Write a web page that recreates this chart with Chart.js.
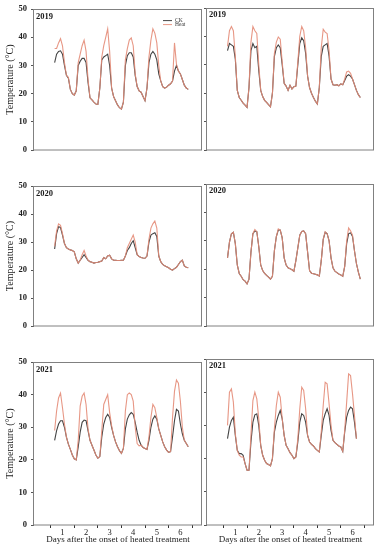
<!DOCTYPE html>
<html>
<head>
<meta charset="utf-8">
<script src="https://cdn.jsdelivr.net/npm/chart.js@4.4.0/dist/chart.umd.min.js"></script>
<style>
    html, body { margin: 0; padding: 0; background: #fff; }
    body { width: 379px; height: 550px; position: relative; overflow: hidden; }
    canvas { position: absolute; }
</style>
</head>
<body>
<canvas id="c2019a" width="203" height="177" style="left:0;top:0"></canvas>
<canvas id="c2019b" width="176" height="177" style="left:203px;top:0"></canvas>
<canvas id="c2020a" width="203" height="176" style="left:0;top:177px"></canvas>
<canvas id="c2020b" width="176" height="176" style="left:203px;top:177px"></canvas>
<canvas id="c2021a" width="203" height="197" style="left:0;top:353px"></canvas>
<canvas id="c2021b" width="176" height="197" style="left:203px;top:353px"></canvas>
<script>
// hours after the first day boundary, one reading every 2 h
var hours = [4, 6, 8, 10, 12, 14, 16, 18, 20, 22, 24, 26, 28, 30, 32, 34, 36, 38, 40, 42, 44, 46,
    48, 50, 52, 54, 56, 58, 60, 62, 64, 66, 68, 70, 72, 74, 76, 78, 80, 82, 84, 86, 88, 90, 92, 94,
    96, 98, 100, 102, 104, 106, 108, 110, 112, 114, 116, 118, 120, 122, 124, 126, 128, 130, 132, 134, 136, 138, 140];

// x tick marks (day boundaries) and label positions (day middles)
var dayTickHours = [0, 12, 24, 36, 48, 60, 72, 84, 96, 108, 120, 132, 144];
var dayLabels = ['1', '2', '3', '4', '5', '6'];
var yearLabels = ['2019', '2020', '2021'];
var seriesNames = ['CK', 'Heat'];

var ck2019a = [31, 34, 35, 35.2, 34, 30, 26.5, 25.5, 21.5, 20,
    19.5, 21, 30, 31.5, 32.5, 32.5, 31, 24, 18.5, 17.8, 17, 16.3,
    16.2, 22, 32, 33, 33.5, 34, 30, 22, 19, 17.5, 16, 15,
    14.5, 17, 30, 33.5, 34.5, 34.5, 33, 26.5, 22.5, 21, 20.5, 19,
    17.5, 22, 31, 34, 35, 34, 32, 27, 24.5, 22.5, 22, 22.3,
    23, 23.5, 24.5, 28, 30, 28, 27, 25, 23, 22, 21.5];
var heat2019a = [36, 36, 38, 39.5, 37, 31, 26.5, 25.8, 21.5, 20,
    19.5, 21, 31, 34, 37, 39, 35, 25, 18.5, 17.8, 17, 16.3,
    16.2, 22, 33, 37, 40, 43, 35, 22, 19, 17.5, 16, 15,
    14.5, 17, 32, 36, 39, 39.8, 37, 27, 22.5, 21, 20.5, 19,
    17.5, 22, 33, 39, 43, 41.5, 38, 30, 24.5, 22.5, 22, 22.3,
    23, 23.5, 24.5, 38, 30.5, 28, 27, 25, 23, 22, 21.5];

var ck2019b = [35, 37.5, 37, 36.5, 32, 21, 18.5, 17.5, 16.5, 15.8,
    15, 22, 35, 37.5, 36, 36.5, 28, 21, 18.8, 17.5, 16.8, 16,
    15.2, 20, 33, 36, 37, 36, 30, 23.5, 22.5, 21, 22.8, 21.5,
    22.3, 22.5, 30, 37.5, 39.5, 38.5, 34, 26, 22, 20, 18.5, 17.2,
    16.2, 22, 33, 36.5, 37, 37.5, 33, 25, 23, 22.8, 23, 22.6,
    23.3, 23, 24.5, 26, 26.5, 26, 25, 23, 21, 19.5, 18.5];
var heat2019b = [36.5, 42, 43.5, 42, 33, 21, 18.5, 17.5, 16.5, 15.8,
    15, 22, 38, 43.5, 42, 41, 30, 21, 18.8, 17.5, 16.8, 16,
    15.2, 20, 34, 38, 39.8, 39, 31, 23.5, 22.5, 21, 22.8, 21.5,
    22.3, 22.5, 31, 40, 43.5, 42, 36, 26, 22, 20, 18.5, 17.2,
    16.2, 22, 36, 42.5, 41.5, 41, 35, 25, 23, 22.8, 23, 22.6,
    23.3, 23, 25, 27.5, 27.8, 27, 25, 23, 21, 19.5, 18.5];

var ck2020a = [27.5, 33, 35.5, 35.2, 32.5, 29.5, 28, 27.5, 27.2, 27,
    26.5, 24, 22.5, 23.5, 24.5, 25.5, 24.5, 23.5, 23, 22.8, 22.5, 22.7,
    22.8, 23, 23.2, 24.5, 24, 25, 25.3, 24, 23.5, 23.5, 23.4, 23.4,
    23.5, 23.5, 25, 27, 28, 29.5, 30.5, 28, 25.5, 24.8, 24.5, 24.3,
    24.2, 25, 30, 32.5, 33, 33.3, 32, 25, 23, 22, 21.5, 21.2,
    20.8, 20.3, 20, 20.5, 21, 22, 23, 23.5, 21.5, 21, 20.8];
var heat2020a = [28.5, 34, 36.5, 36, 33, 29.5, 28, 27.5, 27.2, 27,
    26.5, 24, 22.5, 23.5, 25.5, 27, 25, 23.5, 23, 22.8, 22.5, 22.7,
    22.8, 23, 23.2, 24.5, 24, 25, 25.3, 24, 23.5, 23.5, 23.4, 23.4,
    23.5, 23.5, 25, 28, 29.5, 31, 32.5, 30, 25.5, 24.8, 24.5, 24.3,
    24.2, 25, 31, 35, 36.5, 37.5, 35, 25, 23, 22, 21.5, 21.2,
    20.8, 20.3, 20, 20.5, 21, 22, 23, 23.5, 21.5, 21, 20.8];

var ck2020b = [24, 29.5, 32.5, 33, 29, 21.5, 18.5, 17.5, 16.3, 15.8,
    14.8, 16.5, 26, 32.5, 33.5, 33.2, 28, 21.5, 19.5, 18.5, 17.8, 17.2,
    16.5, 17.5, 26.5, 31.5, 33.8, 33.8, 31, 24, 21.5, 20.5, 20.2, 19.8,
    19.3, 23, 27.5, 32, 33.3, 33.5, 32.5, 26, 19.5, 18.6, 18.4, 18.2,
    18, 17.6, 23, 30.5, 33, 32.5, 30, 24, 20.5, 19.3, 18.8, 18.3,
    18, 17.5, 21, 29, 32.5, 32.8, 31.5, 26.5, 22, 19, 16.5];
var heat2020b = [24, 29.5, 32.5, 33, 29, 21.5, 18.5, 17.5, 16.3, 15.8,
    14.8, 16.5, 26, 32.5, 34, 33.2, 28, 21.5, 19.5, 18.5, 17.8, 17.2,
    16.5, 17.5, 26.5, 31.5, 34.2, 33.8, 31, 24, 21.5, 20.5, 20.2, 19.8,
    19.3, 23, 27.5, 32, 33.3, 33.5, 32.5, 26, 19.5, 18.6, 18.4, 18.2,
    18, 17.6, 23, 30.5, 33.2, 32.5, 30, 24, 20.5, 19.3, 18.8, 18.3,
    18, 17.5, 21, 30, 34.5, 33.5, 32, 26.5, 22, 19, 16.5];

var ck2021a = [26, 29, 31, 32, 32, 30, 27, 24.8, 23.2, 21.5,
    20.3, 20, 24, 28.5, 31.5, 32.2, 32, 29, 26, 24.5, 23, 21.5,
    20.5, 21, 27, 31, 33, 34, 33, 30, 27.5, 25.5, 24, 22.8,
    22, 23.5, 29.5, 32.5, 33.8, 34.5, 34, 31.5, 28.5, 26, 24.5, 23.8,
    23.5, 23.2, 26, 30, 32.5, 33.5, 32.5, 29.5, 27.5, 25.5, 24, 23,
    22.3, 22.5, 27, 32, 35.5, 35, 31, 28, 26, 25, 24];
var heat2021a = [29, 35, 39, 40.5, 36, 31, 27, 24.8, 23.2, 21.5,
    20.3, 20, 26, 36.5, 39.5, 40.5, 37, 29.5, 26, 24.5, 23, 21.5,
    20.5, 21, 29, 37, 38.5, 40, 34.5, 30.5, 27.5, 25.5, 24, 22.8,
    22, 23.5, 35, 40, 40.5, 40, 38, 30, 25, 24.3, 24.5, 23.8,
    23.5, 23.2, 27, 33, 37, 36, 33, 29.5, 27.5, 25.5, 24, 23,
    22.3, 22.5, 33, 41, 44.5, 43.5, 38, 30, 26, 25, 24];

var ck2021b = [26, 29.5, 31.5, 32.5, 27, 22.5, 21.5, 21.5, 21, 18.5,
    16.5, 16.5, 25, 31, 33.2, 33.5, 30, 24, 21, 19.5, 18.5, 18.2,
    17.8, 20, 28, 31, 33, 34.5, 32, 27, 24, 23, 21.8, 21,
    20, 20.5, 25, 31, 33.5, 33, 31, 27, 25, 24.3, 23.8, 23,
    22.5, 22, 27, 31.5, 33.5, 35, 33, 28.5, 25.5, 24.8, 24.3, 23.8,
    23.5, 22.2, 28, 32.5, 34.5, 35.5, 35, 31, 26, null, null];
var heat2021b = [30, 40, 41, 37, 27.5, 22.5, 21, 20.5, 20.5, 18.5,
    16.5, 16.5, 27, 37.5, 40, 38, 32, 24, 21, 19.5, 18.5, 18.2,
    17.8, 20, 29, 36, 40, 38.5, 32, 27, 24, 23, 21.8, 21,
    20, 20.5, 26, 35, 41.5, 40.5, 35, 27, 25, 24.3, 23.8, 23,
    22.5, 22, 28, 36, 43, 42.5, 36.5, 30, 25.5, 24.8, 24.3, 23.8,
    23.5, 22.2, 28.5, 37, 45.5, 45, 39.5, 33, 26, null, null];

var SERIF = '"Liberation Serif", "Times New Roman", serif';
var CK_COLOR = '#444444';
var HEAT_COLOR = 'rgba(228, 140, 120, 0.9)';
var FRAME_COLOR = '#808080';

// Box around each panel, year label and (first panel only) the legend
var framePlugin = {
    id: 'frame',
    afterDraw: function(chart, args, opts) {
        var a = chart.chartArea;
        var ctx = chart.ctx;
        ctx.save();
        ctx.strokeStyle = FRAME_COLOR;
        ctx.lineWidth = 1;
        ctx.strokeRect(Math.round(a.left) - 0.5, Math.round(a.top) + 0.5,
            Math.round(a.right - a.left), Math.round(a.bottom - a.top) - 0.5);

        ctx.fillStyle = '#1a1a1a';
        ctx.font = 'bold 8.5px ' + SERIF;
        ctx.textBaseline = 'top';
        ctx.textAlign = 'left';
        ctx.fillText(opts.year, a.left + 2, a.top + 3);

        if (opts.legend) {
            var ds = chart.data.datasets;
            ctx.font = '5.5px ' + SERIF;
            ctx.textBaseline = 'middle';
            for (var i = 0; i < ds.length; i++) {
                var y = a.top + 11.5 + i * 4;
                ctx.strokeStyle = ds[i].borderColor;
                ctx.beginPath();
                ctx.moveTo(a.right - 39, y);
                ctx.lineTo(a.right - 30, y);
                ctx.stroke();
                ctx.fillStyle = '#333';
                ctx.fillText(ds[i].label, a.right - 27, y);
            }
        }
        ctx.restore();
    }
};

function makePanel(id, ck, heat, year, isLeft, isBottom, legend) {
    var canvas = document.getElementById(id);
    var ctx = canvas.getContext('2d');

    var xScale = {
        type: 'linear',
        min: -17,
        max: 154,
        display: isBottom,
        border: { display: false },
        grid: {
            drawOnChartArea: false,
            drawTicks: true,
            tickLength: 3,
            tickColor: function(c) {
                return c.tick && c.tick.value % 24 === 0 ? '#333' : 'rgba(0,0,0,0)';
            }
        },
        afterBuildTicks: function(scale) {
            scale.ticks = dayTickHours.map(function(v) { return { value: v }; });
        },
        afterFit: function(scale) {
            scale.height = 25;
        },
        ticks: {
            autoSkip: false,
            maxRotation: 0,
            padding: 0,
            color: '#222',
            font: { family: SERIF, size: 8.5 },
            callback: function(v) {
                return v % 24 === 12 ? dayLabels[(v - 12) / 24] : '';
            }
        },
        title: {
            display: true,
            text: 'Days after the onset of heated treatment',
            color: '#222',
            font: { family: SERIF, size: 9 },
            padding: { top: 0, bottom: 4.5 }
        }
    };

    var yScale = {
        min: 0,
        max: 50,
        border: { display: false },
        grid: {
            drawOnChartArea: false,
            drawTicks: true,
            tickLength: 3,
            tickColor: '#555'
        },
        afterFit: function(scale) {
            scale.width = isLeft ? 34 : 4;
        },
        ticks: {
            stepSize: 10,
            display: isLeft,
            padding: 4,
            color: '#222',
            font: { family: SERIF, size: 8.5, weight: 'bold' }
        },
        title: {
            display: isLeft,
            text: 'Temperature (°C)',
            color: '#222',
            font: { family: SERIF, size: 10 },
            padding: { top: 4, bottom: 0 }
        }
    };

    var chartConfig = {
        type: 'line',
        data: {
            labels: hours,
            datasets: [
                {
                    label: seriesNames[0],
                    data: ck,
                    borderColor: CK_COLOR,
                    borderWidth: 1.1,
                    pointRadius: 0,
                    tension: 0,
                    order: 1
                },
                {
                    label: seriesNames[1],
                    data: heat,
                    borderColor: HEAT_COLOR,
                    borderWidth: 1.1,
                    pointRadius: 0,
                    tension: 0,
                    order: 0
                }
            ]
        },
        options: {
            responsive: false,
            animation: false,
            layout: {
                padding: {
                    top: id.indexOf('2019') >= 0 ? 8 : (id.indexOf('2020') >= 0 ? 7 : 6),
                    bottom: isBottom ? 0 : 2,
                    left: 0,
                    right: isLeft ? 1 : 5
                }
            },
            plugins: {
                legend: { display: false },
                tooltip: { enabled: false },
                frame: { year: year, legend: legend }
            },
            scales: { x: xScale, y: yScale }
        },
        plugins: [framePlugin]
    };

    try {
        return new Chart(ctx, chartConfig);
    } catch (error) {
        console.error('Panel ' + id + ' failed:', error);
    }
}

makePanel('c2019a', ck2019a, heat2019a, yearLabels[0], true, false, true);
makePanel('c2019b', ck2019b, heat2019b, yearLabels[0], false, false, false);
makePanel('c2020a', ck2020a, heat2020a, yearLabels[1], true, false, false);
makePanel('c2020b', ck2020b, heat2020b, yearLabels[1], false, false, false);
makePanel('c2021a', ck2021a, heat2021a, yearLabels[2], true, true, false);
makePanel('c2021b', ck2021b, heat2021b, yearLabels[2], false, true, false);
</script>
</body>
</html>
